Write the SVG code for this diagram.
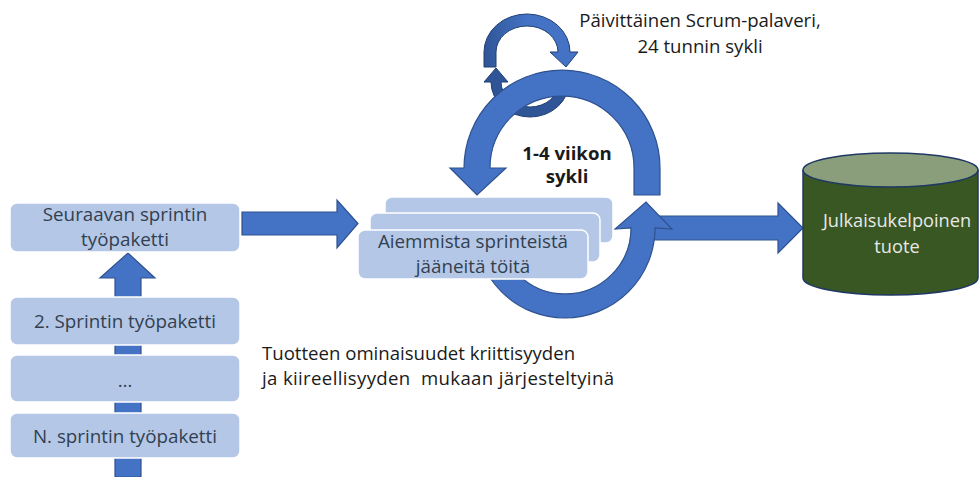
<svg xmlns="http://www.w3.org/2000/svg" width="980" height="477" viewBox="0 0 980 477">
  <style>
    .box { fill: #B4C7E7; stroke: #FFFFFF; stroke-width: 1.5; }
    .btxt { font-family: "Open Sans", "Liberation Sans", sans-serif; font-size: 18.8px; fill: #323F4F; text-anchor: middle; }
    .arrow { fill: #4472C4; stroke: #2F528F; stroke-width: 1.2; stroke-linejoin: miter; }
    .label { font-family: "Open Sans", "Liberation Sans", sans-serif; font-size: 18.6px; fill: #1A1A1A; }
  </style>
  <defs>
    <linearGradient id="ringTop" x1="0" y1="0" x2="1" y2="0">
      <stop offset="0" stop-color="#2F5597"/>
      <stop offset="0.45" stop-color="#4472C4"/>
      <stop offset="1" stop-color="#4472C4"/>
    </linearGradient>
  </defs>

  <rect width="980" height="477" fill="#FFFFFF"/>

  <g id="connectors">
    <!-- vertical backlog arrow -->
    <path class="arrow" d="M115,477 L115,278 L100,278 L128,253 L155,278 L141,278 L141,477 Z"/>
    <!-- next sprint to sprint -->
    <path class="arrow" d="M242,212 L337,212 L337,200 L358,223.5 L337,248 L337,235 L242,235 Z"/>
    <!-- sprint to release -->
    <path class="arrow" d="M650,216 L778,216 L778,203 L803,228 L778,253 L778,240 L650,240 Z"/>
    <!-- lower half of the sprint loop -->
    <path class="arrow" d="M475,228 A90,90 0 0 0 655,228 L672,229 L646,202 L615,229 L631,228 A66,66 0 0 1 499,228 Z"/>
  </g>

  <g id="sprint-stack">
    <rect class="box" x="385" y="197" width="228" height="46" rx="7"/>
    <rect class="box" x="370" y="213" width="230" height="49" rx="7"/>
    <rect class="box" x="358" y="230" width="230" height="49" rx="7"/>
    <text class="btxt" x="473" y="248">Aiemmista sprinteistä</text>
    <text class="btxt" x="473" y="273">jääneitä töitä</text>
  </g>

  <g id="daily-loop">
    <!-- back half of the daily ring -->
    <path d="M569,82 A39,35 0 0 1 491,82 L484,82 L496,68 L508,82 L501,82 A29,25 0 0 0 559,82 Z" fill="#2F5597" stroke="#203F73" stroke-width="1"/>
    <!-- front half of the daily ring -->
    <path d="M484,67 L484,52 A43,38 0 0 1 570,52 L578,52 L566,67 L550,52 L558,52 A31,26 0 0 0 496,52 L496,67 Z" fill="url(#ringTop)" stroke="#203F73" stroke-width="1"/>
  </g>

  <g id="sprint-loop">
    <path class="arrow" d="M660,195 L660,168 A98,98 0 0 0 464,168 L450,168 L477,195 L506,168 L490,168 A72,72 0 0 1 634,168 L634,195 Z"/>
  </g>

  <g id="next-sprint">
    <rect class="box" x="10" y="203" width="230" height="49" rx="7"/>
    <text class="btxt" x="125" y="221" font-size="18">Seuraavan sprintin</text>
    <text class="btxt" x="125" y="246" font-size="18">työpaketti</text>
  </g>
  <g id="sprint-2">
    <rect class="box" x="10" y="297" width="230" height="48" rx="7"/>
    <text class="btxt" x="125" y="328">2. Sprintin työpaketti</text>
  </g>
  <g id="sprint-dots">
    <rect class="box" x="10" y="355" width="230" height="47" rx="7"/>
    <text class="btxt" x="125" y="387">…</text>
  </g>
  <g id="sprint-n">
    <rect class="box" x="10" y="413" width="230" height="45" rx="7"/>
    <text class="btxt" x="125" y="443">N. sprintin työpaketti</text>
  </g>

  <g id="release">
    <path d="M803,170 L803,278 A87.5,17 0 0 0 978,278 L978,170" fill="#385723" stroke="#1F3864" stroke-width="1.5"/>
    <ellipse cx="890.5" cy="170" rx="87.5" ry="17" fill="#8A9E7B" stroke="#1F3864" stroke-width="1.5"/>
    <text x="897" y="227" font-family="'Open Sans', 'Liberation Sans', sans-serif" font-size="18.2" fill="#E8E8E8" text-anchor="middle">Julkaisukelpoinen</text>
    <text x="897" y="253" font-family="'Open Sans', 'Liberation Sans', sans-serif" font-size="18.2" fill="#E8E8E8" text-anchor="middle">tuote</text>
  </g>

  <g id="labels">
    <text class="label" x="700" y="27" text-anchor="middle">Päivittäinen Scrum-palaveri,</text>
    <text class="label" x="700" y="53" text-anchor="middle">24 tunnin sykli</text>
    <text class="label" x="567" y="160" text-anchor="middle" font-weight="bold" font-size="18.6">1-4 viikon</text>
    <text class="label" x="567" y="183" text-anchor="middle" font-weight="bold" font-size="18.6">sykli</text>
    <text class="label" x="262" y="360">Tuotteen ominaisuudet kriittisyyden</text>
    <text class="label" x="262" y="385" xml:space="preserve" textLength="352" lengthAdjust="spacing">ja kiireellisyyden  mukaan järjesteltyinä</text>
  </g>
</svg>
